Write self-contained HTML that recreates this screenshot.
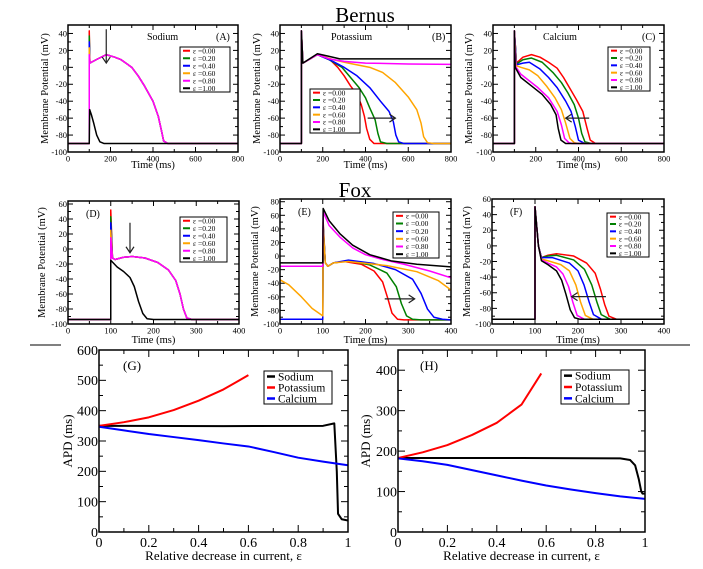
<!DOCTYPE html>
<html><head><meta charset="utf-8"><style>
body{margin:0;background:#fff;}
svg{display:block;font-family:"Liberation Serif",serif;}
</style></head><body>
<svg id="fig" width="703" height="569" viewBox="0 0 703 569" xmlns="http://www.w3.org/2000/svg">
<rect width="703" height="569" fill="#fff"/>
<text x="365" y="22" font-size="21" text-anchor="middle">Bernus</text>
<text x="355" y="197" font-size="21" text-anchor="middle">Fox</text>
<line x1="30" y1="345" x2="61" y2="345" stroke="#000" stroke-width="1"/>
<line x1="358" y1="345" x2="690" y2="345" stroke="#000" stroke-width="1"/>
</svg>
<script>
const epsLabels=["0.00","0.20","0.40","0.60","0.80","1.00"];
const epsLabelsE=["0.00","0.00","0.20","0.60","0.80","1.00"];
const colors=["#ff0000","#008000","#0000ff","#ffa500","#ff00ff","#000000"];
// Panel A: Bernus sodium
const aPeaks=[43,37,30,23,15];
const aPlateau=[[103,5],[110,6],[140,10],[180,15],[220,12],[250,9],[300,0],[330,-10],[360,-22],[400,-40],[425,-58],[440,-75],[450,-87],[470,-90],[800,-90]];
const aBlack=[[0,-90],[100,-90],[102,-50],[110,-56],[120,-65],[135,-80],[150,-88],[170,-90],[800,-90]];
// Panel B: Bernus potassium
const bRed=[[175,15],[230,10],[270,0],[300,-10],[330,-22],[360,-32],[380,-44],[395,-58],[405,-72],[420,-85],[440,-90],[800,-90]];
const bGreen=[[175,15],[230,9],[290,0],[330,-12],[370,-24],[400,-36],[420,-48],[445,-62],[458,-78],[470,-88],[500,-90],[800,-90]];
const bBlue=[[175,15],[240,8],[300,0],[360,-10],[420,-24],[470,-40],[510,-52],[530,-64],[542,-80],[555,-88],[580,-90],[800,-90]];
const bOrange=[[175,15],[250,9],[320,5],[420,0],[480,-6],[540,-18],[600,-35],[640,-50],[660,-66],[672,-82],[690,-89],[720,-90],[800,-90]];
const bMagenta=[[175,15],[230,10],[300,7],[400,5],[600,4],[800,3.5]];
const bBlack=[[175,16],[230,13],[280,10],[800,10]];
// Panel C: Bernus calcium
const cRed=[[110,5],[140,12],[180,15],[220,12],[260,6],[300,-1],[330,-12],[360,-25],[390,-38],[420,-52],[440,-72],[455,-86],[480,-90],[800,-90]];
const cGreen=[[110,4],[140,9],[180,11],[230,6],[280,-6],[320,-18],[350,-30],[380,-44],[400,-60],[415,-78],[430,-88],[460,-90],[800,-90]];
const cBlue=[[110,3],[140,5],[170,6],[220,-2],[260,-12],[300,-24],[340,-40],[365,-52],[385,-70],[400,-86],[430,-90],[800,-90]];
const cOrange=[[108,2],[130,0],[170,-3],[210,-10],[250,-22],[290,-36],[320,-50],[340,-66],[360,-84],[380,-89],[400,-90],[800,-90]];
const cMagenta=[[106,1],[130,-8],[170,-16],[210,-24],[260,-36],[300,-52],[320,-68],[335,-84],[355,-89],[370,-90],[800,-90]];
const cBlack=[[104,0],[130,-12],[180,-22],[230,-32],[270,-44],[295,-56],[305,-72],[318,-86],[340,-90],[800,-90]];
// Panel D: Fox sodium
const dPeaks=[52,43,35,25,15];
const dPlateau=[[104,-12],[110,-14],[130,-11],[150,-10],[180,-12],[210,-18],[235,-28],[252,-42],[262,-60],[270,-80],[278,-92],[290,-94],[400,-94]];
const dBlack=[[0,-94],[100,-94],[100,-15],[105,-18],[115,-24],[130,-30],[145,-38],[155,-50],[165,-70],[175,-86],[185,-93],[200,-94],[400,-94]];
// Panel E: Fox potassium
const eRed=[[0,-93],[100,-93],[101,50],[106,-10],[112,-15],[125,-10],[150,-8],[190,-12],[220,-22],[240,-38],[252,-62],[262,-84],[275,-93],[290,-94],[400,-94]];
const eGreen=[[0,-93],[100,-93],[101,45],[106,-10],[112,-15],[125,-10],[160,-7],[210,-13],[250,-25],[272,-45],[284,-70],[296,-88],[310,-93],[330,-94],[400,-94]];
const eBlue=[[0,-93],[100,-93],[101,42],[106,-10],[112,-15],[125,-10],[160,-6],[220,-11],[270,-20],[310,-34],[330,-55],[345,-78],[360,-90],[380,-93],[400,-94]];
const eOrange=[[0,-35],[20,-42],[50,-60],[75,-77],[100,-88],[101,40],[106,-10],[112,-15],[125,-10],[160,-8],[250,-14],[320,-23],[370,-36],[400,-50]];
const eMagenta=[[0,-15],[100,-15],[101,65],[115,45],[140,28],[170,12],[200,2],[240,-5],[290,-12],[350,-22],[400,-32]];
const eBlack=[[0,-10],[100,-10],[101,70],[115,52],[140,33],[170,16],[210,2],[260,-7],[320,-12],[400,-16]];
// Panel F: Fox calcium
const fRed=[[100,50],[108,0],[115,-15],[130,-12],[150,-10],[190,-13],[220,-22],[240,-35],[252,-55],[262,-75],[272,-90],[290,-94],[400,-94]];
const fGreen=[[100,50],[108,0],[115,-15],[130,-13],[150,-12],[190,-18],[215,-30],[232,-50],[244,-72],[254,-88],[275,-94],[400,-94]];
const fBlue=[[100,50],[108,0],[115,-15],[140,-15],[180,-22],[200,-32],[214,-50],[226,-72],[236,-88],[255,-94],[400,-94]];
const fOrange=[[100,50],[108,0],[115,-17],[130,-19],[160,-24],[180,-32],[195,-50],[206,-72],[217,-89],[235,-94],[400,-94]];
const fMagenta=[[100,50],[108,0],[115,-18],[130,-22],[150,-27],[165,-36],[178,-52],[188,-72],[198,-89],[215,-94],[400,-94]];
const fBlack=[[100,50],[108,0],[115,-19],[130,-24],[150,-32],[162,-44],[172,-62],[182,-82],[192,-92],[205,-94],[400,-94]];
// Panel G: Bernus APD
const gSodium=[[0,350],[0.5,349],[0.9,350],[0.945,358],[0.955,200],[0.96,60],[0.975,42],[1,38]];
const gPotassium=[[0,350],[0.1,362],[0.2,378],[0.3,402],[0.4,433],[0.5,470],[0.6,517]];
const gCalcium=[[0,347],[0.1,335],[0.2,323],[0.3,313],[0.4,303],[0.5,292],[0.6,282],[0.7,264],[0.8,245],[0.9,232],[1,220]];
// Panel H: Fox APD
const hSodium=[[0,183],[0.5,183],[0.9,182],[0.94,178],[0.96,165],[0.975,130],[0.985,100],[0.99,95],[1,95]];
const hPotassium=[[0,183],[0.1,197],[0.2,215],[0.3,240],[0.4,270],[0.5,315],[0.58,392]];
const hCalcium=[[0,182],[0.1,175],[0.2,166],[0.3,153],[0.4,140],[0.5,127],[0.6,115],[0.7,105],[0.8,96],[0.9,88],[1,82]];

const NS="http://www.w3.org/2000/svg";
const svg=document.getElementById('fig');
function mk(tag,attrs,parent){const e=document.createElementNS(NS,tag);for(const k in attrs)e.setAttribute(k,attrs[k]);(parent||svg).appendChild(e);return e;}

function panel(cfg){
  const g=mk('g',{});
  
  
  const [x0,y0,x1,y1]=cfg.box;
  const sx=v=>x0+(v-cfg.xr[0])/(cfg.xr[1]-cfg.xr[0])*(x1-x0);
  const sy=v=>y1-(v-cfg.yr[0])/(cfg.yr[1]-cfg.yr[0])*(y1-y0);
  const clip='c'+cfg.id;
  const cp=mk('clipPath',{id:clip},g);mk('rect',{x:x0,y:y0,width:x1-x0,height:y1-y0},cp);
  const fs=cfg.fs, big=cfg.big;
  const ML=big?7:5, mL=big?4:3;
  for(let v=cfg.xr[0];v<=cfg.xr[1]+1e-9;v+=cfg.xminor){
    const isMaj=Math.abs(Math.round((v-cfg.xr[0])/cfg.xmajor)*cfg.xmajor-(v-cfg.xr[0]))<1e-6;
    const L=isMaj?ML:mL,x=sx(v);
    mk('line',{x1:x,y1:y1,x2:x,y2:y1-L,stroke:'#000','stroke-width':1},g);
    mk('line',{x1:x,y1:y0,x2:x,y2:y0+L,stroke:'#000','stroke-width':1},g);
    if(isMaj){const t=mk('text',{x:x,y:y1+fs+1,'font-size':fs,'text-anchor':'middle'},g);t.textContent=cfg.xfmt(v);
      
      }
  }
  for(let v=cfg.yr[0];v<=cfg.yr[1]+1e-9;v+=cfg.yminor){
    const isMaj=Math.abs(Math.round((v-cfg.yr[0])/cfg.ymajor)*cfg.ymajor-(v-cfg.yr[0]))<1e-6;
    const L=isMaj?ML:mL,y=sy(v);
    mk('line',{x1:x0,y1:y,x2:x0+L,y2:y,stroke:'#000','stroke-width':1},g);
    mk('line',{x1:x1,y1:y,x2:x1-L,y2:y,stroke:'#000','stroke-width':1},g);
    if(isMaj){const t=mk('text',{x:x0-1,y:y+fs*0.35,'font-size':fs,'text-anchor':'end'},g);t.textContent=String(v);
      
      }
  }
  cfg.series.forEach(s=>{
    const d=s.pts.map((p,i)=>(i?'L':'M')+sx(p[0]).toFixed(2)+','+sy(p[1]).toFixed(2)).join('');
    const p=mk('path',{d:d,fill:'none',stroke:s.c,'stroke-width':big?2:1.5,'stroke-linejoin':'round','clip-path':'url(#'+clip+')'},g);
    
    
  });
  mk('rect',{x:x0,y:y0,width:x1-x0,height:y1-y0,fill:'none',stroke:'#000','stroke-width':1.5},g);
  if(cfg.arrow){const a=cfg.arrow;
    const ax1=sx(a[0]),ay1=sy(a[1]),ax2=sx(a[2]),ay2=sy(a[3]);
    const ln=mk('line',{x1:ax1,y1:ay1,x2:ax2,y2:ay2,stroke:'#222','stroke-width':1.2},g);
    
    
    const dx=ax2-ax1,dy=ay2-ay1,l=Math.hypot(dx,dy),ux=dx/l,uy=dy/l;
    mk('path',{d:`M${ax2-6*ux-4*uy},${ay2-6*uy+4*ux}L${ax2},${ay2}L${ax2-6*ux+4*uy},${ay2-6*uy-4*ux}`,fill:'none',stroke:'#222','stroke-width':1.2},g);
  }
  cfg.texts.forEach(t=>{const e=mk('text',{x:t[0],y:t[1],'font-size':t[3]},g);e.textContent=t[2];
    
    });
  const xt=mk('text',{x:(x0+x1)/2,y:cfg.xty,'font-size':cfg.tfs,'text-anchor':'middle'},g);xt.textContent=cfg.xtitle;
  
  
  const yt=mk('text',{x:0,y:0,'font-size':cfg.tfs,'text-anchor':'middle',transform:`translate(${cfg.ytx},${(y0+y1)/2}) rotate(-90)`},g);yt.textContent=cfg.ytitle;
  
  
  const L=cfg.legend;
  const lg=mk('g',{},g);
  
  
  mk('rect',{x:L.x,y:L.y,width:L.w,height:L.h,fill:'#fff',stroke:'#000','stroke-width':1},lg);
  const rh=L.h/L.items.length;
  L.items.forEach((it,i)=>{const cy=L.y+rh*(i+0.5);
    mk('line',{x1:L.x+3,y1:cy,x2:L.x+3+L.ll,y2:cy,stroke:it[1],'stroke-width':big?2.5:2},lg);
    const t=mk('text',{x:L.x+6+L.ll,y:cy+L.fs*0.35,'font-size':L.fs},lg);t.textContent=it[0];
    
    });
}
function spikeSeries(peaks,plateau,rest){return peaks.map(p=>[[0,rest],[100,rest],[100,p]].concat(plateau));}
function preSpike(rest,peak,arr){return [[0,rest],[100,rest],[100,peak]].concat(arr);}
const epsItems=epsLabels.map((e,i)=>['ε =' + e,colors[i]]);
const fmtInt=v=>String(Math.round(v));
const smallBase={fs:8.5,tfs:10.5,big:false,xfmt:fmtInt,xtitle:'Time (ms)',ytitle:'Membrane Potential (mV)'};
const aS=spikeSeries(aPeaks,aPlateau,-90).map((p,i)=>({pts:p,c:colors[i],name:'sodium-eps-'+epsLabels[i]}));
aS.push({pts:aBlack,c:colors[5],name:'sodium-eps-1.00'});
panel(Object.assign({},smallBase,{id:'A',name:'panel-a',box:[68,25,238,152],xr:[0,800],yr:[-100,50],xmajor:200,xminor:100,ymajor:20,yminor:10,
  series:aS,arrow:[180,45,180,5],texts:[[147,40,'Sodium',10],[216,40,'(A)',10]],xty:168,ytx:48,
  legend:{x:180,y:47,w:50,h:45,ll:7,fs:7.5,items:epsItems}}));
const bArr=[bRed,bGreen,bBlue,bOrange,bMagenta,bBlack];
panel(Object.assign({},smallBase,{id:'B',name:'panel-b',box:[280,25,451,152],xr:[0,800],yr:[-100,50],xmajor:200,xminor:100,ymajor:20,yminor:10,
  series:bArr.map((a,i)=>({pts:preSpike(-90,43,[[107,5]].concat(a)),c:colors[i],name:'potassium-eps-'+epsLabels[i]})),arrow:[410,-60,540,-60],
  texts:[[331,40,'Potassium',10],[432,40,'(B)',10]],xty:168,ytx:260,
  legend:{x:310,y:89,w:50,h:44,ll:7,fs:7.5,items:epsItems}}));
const cArr=[cRed,cGreen,cBlue,cOrange,cMagenta,cBlack];
panel(Object.assign({},smallBase,{id:'C',name:'panel-c',box:[493,25,664,152],xr:[0,800],yr:[-100,50],xmajor:200,xminor:100,ymajor:20,yminor:10,
  series:cArr.map((a,i)=>({pts:preSpike(-90,43,a),c:colors[i],name:'calcium-eps-'+epsLabels[i]})),arrow:[450,-60,340,-60],
  texts:[[543,40,'Calcium',10],[642,40,'(C)',10]],xty:168,ytx:472,
  legend:{x:608,y:47,w:42,h:44,ll:6,fs:7.5,items:epsItems}}));
const dS=spikeSeries(dPeaks,dPlateau,-94).map((p,i)=>({pts:p,c:colors[i],name:'fox-sodium-eps-'+epsLabels[i]}));
dS.push({pts:dBlack,c:colors[5],name:'fox-sodium-eps-1.00'});
panel(Object.assign({},smallBase,{id:'D',name:'panel-d',box:[68,201,239,324],xr:[0,400],yr:[-100,64],xmajor:100,xminor:50,ymajor:20,yminor:10,
  series:dS,arrow:[145,35,145,-5],texts:[[86,217,'(D)',10]],xty:343,ytx:45,
  legend:{x:180,y:217,w:47,h:45,ll:7,fs:7.5,items:epsItems}}));
const eArr=[eRed,eGreen,eBlue,eOrange,eMagenta,eBlack];
panel(Object.assign({},smallBase,{id:'E',name:'panel-e',box:[280,199,451,324],xr:[0,400],yr:[-100,84],xmajor:100,xminor:50,ymajor:20,yminor:10,
  series:eArr.map((a,i)=>({pts:a,c:colors[i],name:'fox-potassium-eps-'+epsLabels[i]})),arrow:[245,-63,315,-63],
  texts:[[298,215,'(E)',10]],xty:343,ytx:258,
  legend:{x:393,y:212,w:46,h:46,ll:7,fs:7.5,items:epsLabelsE.map((e,i)=>['ε =' + e,colors[i]])}}));
const fArr=[fRed,fGreen,fBlue,fOrange,fMagenta,fBlack];
panel(Object.assign({},smallBase,{id:'F',name:'panel-f',box:[492,199,664,324],xr:[0,400],yr:[-100,60],xmajor:100,xminor:50,ymajor:20,yminor:10,
  series:fArr.map((a,i)=>({pts:preSpike(-94,50,a),c:colors[i],name:'fox-calcium-eps-'+epsLabels[i]})),arrow:[265,-65,185,-65],
  texts:[[510,215,'(F)',10]],xty:343,ytx:470,
  legend:{x:607,y:213,w:42,h:44,ll:6,fs:7.5,items:epsItems}}));
const bigBase={fs:14,tfs:13,big:true,xfmt:v=>{const r=Math.round(v*10)/10;return r===0?'0':r===1?'1':r.toFixed(1);},xtitle:'Relative decrease in current,  ε',ytitle:'APD (ms)'};
const apdColors=['#000000','#ff0000','#0000ff'];const apdNames=['Sodium','Potassium','Calcium'];
panel(Object.assign({},bigBase,{id:'G',name:'panel-g',box:[99,350,348,532],xr:[0,1],yr:[0,600],xmajor:0.2,xminor:0.1,ymajor:100,yminor:50,
  series:[gSodium,gPotassium,gCalcium].map((a,i)=>({pts:a,c:apdColors[i],name:'apd-'+apdNames[i].toLowerCase()})),
  texts:[[123,370,'(G)',13]],xty:560,ytx:72,
  legend:{x:264,y:371,w:68,h:33,ll:8,fs:11.5,items:apdNames.map((n,i)=>[n,apdColors[i]])}}));
panel(Object.assign({},bigBase,{id:'H',name:'panel-h',box:[398,350,645,532],xr:[0,1],yr:[0,450],xmajor:0.2,xminor:0.1,ymajor:100,yminor:50,
  series:[hSodium,hPotassium,hCalcium].map((a,i)=>({pts:a,c:apdColors[i],name:'fox-apd-'+apdNames[i].toLowerCase()})),
  texts:[[420,370,'(H)',13]],xty:560,ytx:370,
  legend:{x:561,y:370,w:68,h:34,ll:8,fs:11.5,items:apdNames.map((n,i)=>[n,apdColors[i]])}}));
</script>
</body></html>
